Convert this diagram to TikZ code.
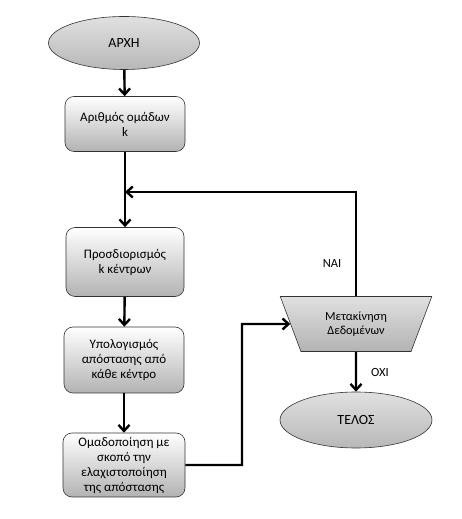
\documentclass[tikz,border=0pt]{standalone}
\usepackage{fontspec}
\setmainfont{Carlito}
\usetikzlibrary{shapes.geometric,arrows.meta}
\tikzset{
  box/.style={rectangle, rounded corners=9pt, draw=black!80, line width=0.6pt, align=center,
    top color=white, bottom color=black!30, font=\fontsize{13}{15}\selectfont},
  term/.style={ellipse, draw=black!80, line width=0.6pt, top color=black!12,
    bottom color=black!28, font=\fontsize{14}{16}\selectfont},
  move/.style={trapezium, trapezium angle=68, trapezium stretches=true,
    shape border rotate=180, draw=black!80, line width=0.6pt, align=center,
    top color=black!12, bottom color=black!30, font=\fontsize{12.3}{14.5}\selectfont},
  flow/.style={line width=2.4pt, ->}
}
\begin{document}
\begin{tikzpicture}[x=1pt,y=1pt,>={Straight Barb[length=6pt,width=11pt]}]
\useasboundingbox (0,0) rectangle (462,519);

\node[term, minimum width=151pt, minimum height=53pt] (start) at (124,476) {ΑΡΧΗ};
\node[box, minimum width=120pt, minimum height=55pt] (n1) at (125,395) {Αριθμός ομάδων\\k};
\node[box, minimum width=118pt, minimum height=69pt] (n2) at (125,257) {Προσδιορισμός\\k κέντρων};
\node[box, minimum width=120pt, minimum height=66pt] (n3) at (124,159) {Υπολογισμός\\απόστασης από\\κάθε κέντρο};
\node[box, minimum width=122pt, minimum height=64pt, inner sep=1pt] (n4) at (124,54) {Ομαδοποίηση με\\σκοπό την\\ελαχιστοποίηση\\της απόστασης};
\node[move, minimum width=152pt, minimum height=55pt] (data) at (356,195) {Μετακίνηση\\Δεδομένων};
\node[term, minimum width=152pt, minimum height=56pt] (end) at (356,99) {ΤΕΛΟΣ};

\coordinate (join) at (125,327);
\coordinate (bend) at (242,195);

\draw[flow] (start) -- (n1);
\draw[flow] (n1) -- (n2);
\draw[flow] (n2) -- (n3);
\draw[flow] (n3) -- (n4);
\draw[flow] (n4.east) -| (bend) -- (data);
\draw[flow] (data.north) |- (join);
\draw[flow] (data) -- (end);

\node (yes) at (332,256) {\fontsize{12.5}{14}\selectfont ΝΑΙ};
\node (no) at (380,147) {\fontsize{12.5}{14}\selectfont ΟΧΙ};

\end{tikzpicture}
\end{document}
